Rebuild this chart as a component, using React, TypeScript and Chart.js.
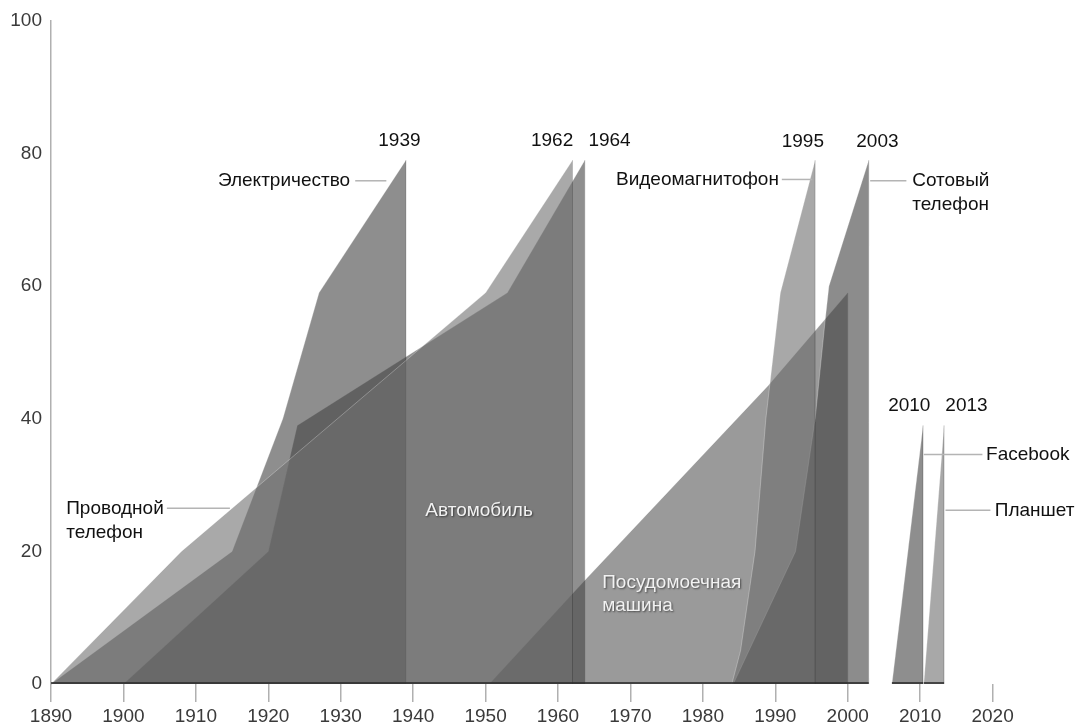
import React, { useEffect, useRef } from 'react';
import { Chart, registerables } from 'chart.js';

Chart.register(...registerables);

// ---- axis ticks ----
const xTickYears = [1890, 1900, 1910, 1920, 1930, 1940, 1950, 1960, 1970, 1980, 1990, 2000, 2010, 2020];
const yTickValues = [0, 20, 40, 60, 80, 100];

// ---- series (year, % of households) ----
const phoneYears = [1890, 1908, 1950, 1962, 1962];
const phoneValues = [0, 20, 59, 79, 0];

const electricityYears = [1890, 1915, 1922, 1927, 1939, 1939];
const electricityValues = [0, 20, 40, 59, 79, 0];

const carYears = [1900, 1920, 1924, 1953, 1963.7, 1963.7];
const carValues = [0, 20, 39, 59, 79, 0];

const dishwasherYears = [1950.5, 1964, 1989, 2000, 2000];
const dishwasherValues = [0, 16, 45, 59, 0];

const vcrYears = [1984, 1985.2, 1987.2, 1988.7, 1990.7, 1995.5, 1995.5];
const vcrValues = [0, 5, 20, 40, 59, 79, 0];

const cellYears = [1984.2, 1992.8, 1995.5, 1996.9, 1997.4, 2002.9, 2002.9];
const cellValues = [0, 20, 40, 55, 60, 79, 0];

const facebookYears = [2006.1, 2010.4, 2010.4];
const facebookValues = [0, 39, 0];

const tabletYears = [2010.5, 2013.3, 2013.3];
const tabletValues = [0, 39, 0];

// ---- labels ----
const peakLabels = ['1939', '1962', '1964', '1995', '2003', '2010', '2013'];
const calloutTexts = [
  ['Электричество'],
  ['Проводной', 'телефон'],
  ['Видеомагнитофон'],
  ['Сотовый', 'телефон'],
  ['Facebook'],
  ['Планшет'],
];
const innerTexts = [['Автомобиль'], ['Посудомоечная', 'машина']];

// ---- layout / style config (not data) ----
const peakLabelPos = [
  { x: 1938.1, y: 81.9, align: 'center' },
  { x: 1962.1, y: 81.9, align: 'right' },
  { x: 1964.2, y: 81.9, align: 'left' },
  { x: 1993.8, y: 81.8, align: 'center' },
  { x: 2004.1, y: 81.8, align: 'center' },
  { x: 2008.5, y: 42, align: 'center' },
  { x: 2016.4, y: 42, align: 'center' },
];
const calloutPos = [
  { x: 1931.3, y: 75.9, align: 'right', line: [1932, 1936.3] },
  { x: 1892.1, y: 26.5, align: 'left', line: [1906, 1914.7] },
  { x: 1990.5, y: 76.1, align: 'right', line: [1990.9, 1995.1] },
  { x: 2008.9, y: 75.9, align: 'left', line: [2003.1, 2008.1] },
  { x: 2019.1, y: 34.6, align: 'left', line: [2010.5, 2018.6] },
  { x: 2020.3, y: 26.2, align: 'left', line: [2013.5, 2019.7] },
];
const innerPos = [
  { x: 1949.1, y: 26.2, align: 'center' },
  { x: 1966.1, y: 15.2, align: 'left' },
];

const FONT = '"Liberation Sans", Arial, Helvetica, sans-serif';

const seriesDefs = [
  { name: 'Проводной телефон', xs: phoneYears, ys: phoneValues, gray: 112 },
  { name: 'Электричество', xs: electricityYears, ys: electricityValues, gray: 67 },
  { name: 'Автомобиль', xs: carYears, ys: carValues, gray: 68 },
  { name: 'Видеомагнитофон', xs: vcrYears, ys: vcrValues, gray: 110 },
  { name: 'Сотовый телефон', xs: cellYears, ys: cellValues, gray: 63 },
  { name: 'Посудомоечная машина', xs: dishwasherYears, ys: dishwasherValues, gray: 86 },
  { name: 'Facebook', xs: facebookYears, ys: facebookValues, gray: 66 },
  { name: 'Планшет', xs: tabletYears, ys: tabletValues, gray: 110 },
];

const annotationPlugin = {
  id: 'annotations',
  afterDatasetsDraw(chart: any) {
    const { ctx } = chart;
    const xs = chart.scales.x;
    const ys = chart.scales.y;
    const px = (v: number) => xs.getPixelForValue(v);
    const py = (v: number) => ys.getPixelForValue(v);

    // dark baseline under the shapes (union of spans)
    const spans = seriesDefs
      .map((s) => [Math.min(...s.xs), Math.max(...s.xs)])
      .sort((a, b) => a[0] - b[0]);
    const merged: number[][] = [];
    spans.forEach((sp) => {
      const last = merged[merged.length - 1];
      if (last && sp[0] <= last[1]) last[1] = Math.max(last[1], sp[1]);
      else merged.push([sp[0], sp[1]]);
    });
    ctx.save();
    ctx.strokeStyle = 'rgba(45,45,45,0.8)';
    ctx.lineWidth = 2;
    merged.forEach((m) => {
      ctx.beginPath();
      ctx.moveTo(px(m[0]), py(0) - 1);
      ctx.lineTo(px(m[1]), py(0) - 1);
      ctx.stroke();
    });
    ctx.restore();

    ctx.save();
    ctx.textBaseline = 'middle';
    ctx.font = `19px ${FONT}`;
    ctx.fillStyle = '#111';
    peakLabels.forEach((t, i) => {
      const p = peakLabelPos[i];
      ctx.textAlign = p.align;
      ctx.fillText(t, px(p.x), py(p.y));
    });

    calloutTexts.forEach((lines, i) => {
      const p = calloutPos[i];
      const yy = py(p.y);
      ctx.strokeStyle = '#b4b4b4';
      ctx.lineWidth = 1.5;
      ctx.beginPath();
      ctx.moveTo(px(p.line[0]), yy);
      ctx.lineTo(px(p.line[1]), yy);
      ctx.stroke();
      ctx.fillStyle = '#111';
      ctx.textAlign = p.align;
      lines.forEach((l, j) => ctx.fillText(l, px(p.x), yy + j * 24));
    });

    ctx.shadowColor = 'rgba(0,0,0,0.55)';
    ctx.shadowBlur = 2;
    ctx.shadowOffsetX = 1;
    ctx.shadowOffsetY = 1;
    ctx.fillStyle = '#f2f2f2';
    innerTexts.forEach((lines, i) => {
      const p = innerPos[i];
      ctx.textAlign = p.align;
      lines.forEach((l, j) => ctx.fillText(l, px(p.x), py(p.y) + j * 23));
    });
    ctx.restore();
  },
};

export default function App() {
  const canvasRef = useRef<HTMLCanvasElement | null>(null);

  useEffect(() => {
    if (!canvasRef.current) return;
    const datasets = seriesDefs.map((s) => ({
      label: s.name,
      data: s.xs.map((x, i) => ({ x, y: s.ys[i] })),
      fill: 'origin',
      backgroundColor: `rgba(${s.gray},${s.gray},${s.gray},0.6)`,
      borderColor: 'rgba(255,255,255,0.28)',
      borderWidth: 1,
      segment: {
        borderColor: (c: any) =>
          c.p0.parsed.x === c.p1.parsed.x ? 'rgba(0,0,0,0.08)' : 'rgba(255,255,255,0.28)',
      },
      pointRadius: 0,
      tension: 0,
    }));

    const chart = new Chart(canvasRef.current, {
      type: 'line',
      data: { datasets },
      plugins: [annotationPlugin],
      options: {
        animation: false,
        responsive: false,
        layout: { padding: { top: 21, right: 13, bottom: 0, left: 0 } },
        plugins: { legend: { display: false }, tooltip: { enabled: false } },
        scales: {
          x: {
            type: 'linear',
            min: 1890,
            max: 2030,
            afterBuildTicks: (axis: any) => {
              axis.ticks = xTickYears.map((v) => ({ value: v }));
            },
            afterFit: (axis: any) => {
              axis.height = 43;
            },
            border: { display: false },
            grid: {
              drawOnChartArea: false,
              drawTicks: true,
              tickLength: 18,
              color: '#b0b0b0',
              lineWidth: 1.5,
            },
            ticks: {
              color: '#3a3a3a',
              font: { family: FONT, size: 19 },
              padding: 3,
              maxRotation: 0,
              autoSkip: false,
              callback: (v: any) => String(v),
            },
          },
          y: {
            type: 'linear',
            min: 0,
            max: 100,
            afterBuildTicks: (axis: any) => {
              axis.ticks = yTickValues.map((v) => ({ value: v }));
            },
            afterFit: (axis: any) => {
              axis.width = 51;
            },
            border: { display: true, color: '#b0b0b0', width: 1.5 },
            grid: { display: false, drawTicks: false },
            ticks: {
              color: '#3a3a3a',
              font: { family: FONT, size: 19 },
              padding: 9,
              callback: (v: any) => String(v),
            },
          },
        },
      },
    });
    return () => chart.destroy();
  }, []);

  return (
    <div style={{ position: 'fixed', left: 0, top: 0, width: 1078, height: 727, background: '#fff' }}>
      <canvas ref={canvasRef} width={1078} height={727} style={{ display: 'block' }} />
    </div>
  );
}
